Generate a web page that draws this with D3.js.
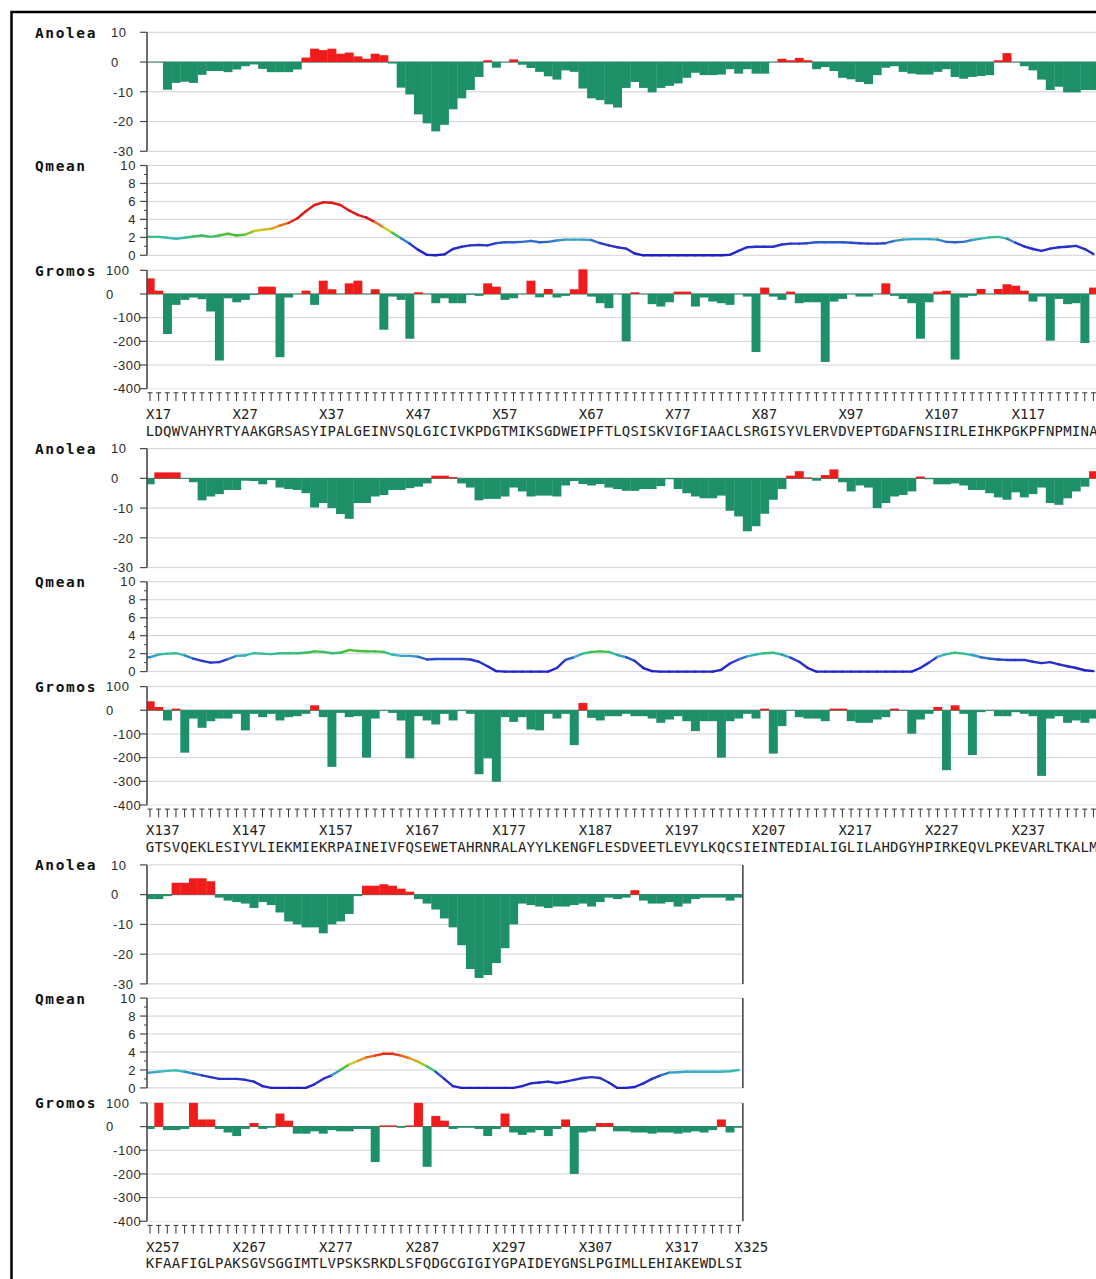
<!DOCTYPE html>
<html>
<head>
<meta charset="utf-8">
<script src="https://cdn.jsdelivr.net/npm/d3@7"></script>
<style>
  html, body { margin: 0; padding: 0; background: #fff; }
  svg { display: block; }
</style>
</head>
<body>
<svg id="chart" width="1096" height="1279"></svg>
<script>
// ---- residue blocks (120 residues per block) ----
const blockStarts = [17, 137, 257];
const blockEnds = [136, 256, 325];

// ---- sequence, one string per block (from the first residue of the block) ----
const seq1 = "LDQWVAHYRTYAAKGRSASYIPALGEINVSQLGICIVKPDGTMIKSGDWEIPFTLQSISKVIGFIAACLSRGISYVLERVDVEPTGDAFNSIIRLEIHKPGKPFNPMINA";
const seq2 = "GTSVQEKLESIYVLIEKMIEKRPAINEIVFQSEWETAHRNRALAYYLKENGFLESDVEETLEVYLKQCSIEINTEDIALIGLILAHDGYHPIRKEQVLPKEVARLTKALM";
const seq3 = "KFAAFIGLPAKSGVSGGIMTLVPSKSRKDLSFQDGCGIGIYGPAIDEYGNSLPGIMLLEHIAKEWDLSI";

// ---- ANOLEA energy per residue ----
const anolea1 = [0,0,-9.3,-7,-6.6,-7,-4.3,-3,-3,-3.4,-2.5,-1.4,-0.8,-2.3,-3.4,-3.4,-3.4,-2.5,1.5,4.5,4,4.5,2.8,3.2,1.9,1.1,2.8,2.3,-0.5,-8.6,-10.9,-17.6,-20.6,-23.3,-21.1,-15.9,-12.2,-9.4,-5,0.6,-1.9,0,0.9,-0.9,-2,-3.3,-4.8,-5.9,-2.8,-3.3,-8.9,-12.2,-12.8,-14.2,-15.3,
  -8.7,-6.7,-8.7,-10.2,-8.7,-8,-7.2,-5.3,-3.6,-4.4,-4.4,-4.2,-2.4,-3.9,-2.4,-3.9,-3.9,0,1.1,0.6,1.4,0.6,-2.4,-1.7,-3,-5.3,-5.8,-6.7,-7.4,-4.4,-1.9,-1.4,-3.3,-3.9,-4.2,-4.2,-3.3,-2.4,-5,-5.6,-5,-4.7,-4.4,0.6,3,0,-1.4,-2.8,-5.9,-9.4,-8.3,-10.2,-10.2,-9.4,-9.4];
const anolea2 = [-2,2,2,2,0,-1.3,-7.4,-6.1,-5.3,-3.9,-3.9,-0.8,-0.9,-2,-0.6,-3.1,-3.6,-3.9,-5,-9.8,-8.3,-10,-12,-13.6,-8.3,-8.3,-6.1,-5.6,-3.9,-3.9,-3.3,-2.8,-1.7,0.9,0.9,0.4,-1.7,-3.1,-7.4,-6.9,-6.9,-6.1,-3.1,-4.4,-6.1,-5.8,-5.8,-6.1,-2.4,-0.9,-1.9,-2.4,-1.9,-3.1,-3.6,
  -4.2,-4.2,-3.6,-3.6,-2.6,-0.3,-3.6,-5,-6.1,-6.7,-6.7,-5.8,-10.9,-12.8,-17.8,-16.1,-11.9,-7.2,-3.6,0.9,2.4,0.3,-0.8,1.1,3,-1.3,-4.4,-2.4,-3.1,-10,-8.3,-6.1,-5.6,-4.4,0.6,-0.3,-2,-2,-1.7,-2.4,-3.9,-3.9,-5,-6.4,-7.2,-4.7,-6.4,-5.3,-3.1,-8.3,-8.9,-6.7,-4.4,-2.8,2.4];
const anolea3 = [-1.5,-1.5,-0.5,4,4,5.5,5.5,4.5,-1,-2,-2.5,-3,-4.5,-2.5,-3.5,-6,-9,-10,-11,-11,-13,-10,-9,-6.5,-0.5,3,3,3.5,3,2,1,-1.5,-3,-5,-8,-11,-17,-25,-28,-27,-23,-18,-10,-3,-3.5,-4,-4.5,-4,-4,-3.5,-3,-4,-2.5,-1,-1.5,-1,1.5,-2,-3,-3,-2.5,-4,-3,-1.5,-1,-1,-1,-2,-1];

// ---- QMEAN local score per residue ----
const qmean1 = [2.05,2.05,1.95,1.85,1.95,2.1,2.2,2.05,2.2,2.4,2.2,2.3,2.7,2.85,2.95,3.3,3.6,4.1,4.9,5.6,5.9,5.85,5.6,5.0,4.5,4.2,3.7,3.1,2.5,1.9,1.3,0.6,0.05,0,0.1,0.7,0.95,1.1,1.15,1.1,1.35,1.45,1.45,1.5,1.6,1.45,1.5,1.65,1.75,1.75,1.75,1.7,1.35,1.1,0.9,
  0.75,0.2,0,0,0,0,0,0,0,0,0,0,0.05,0.5,0.9,0.95,0.95,0.95,1.2,1.3,1.3,1.35,1.45,1.45,1.45,1.45,1.4,1.35,1.3,1.3,1.35,1.6,1.75,1.8,1.8,1.8,1.75,1.5,1.45,1.5,1.7,1.85,2.0,2.05,1.85,1.4,1.0,0.7,0.5,0.75,0.9,0.95,1.05,0.7,0.15];
const qmean2 = [1.6,1.9,2.0,2.05,1.8,1.45,1.2,1.0,1.05,1.4,1.75,1.8,2.05,2.0,1.95,2.05,2.05,2.05,2.1,2.25,2.2,2.05,2.1,2.4,2.3,2.25,2.25,2.2,1.9,1.75,1.75,1.65,1.35,1.4,1.4,1.4,1.4,1.35,1.1,0.6,0.05,0,0,0,0,0,0,0.4,1.3,1.6,2.0,2.2,2.25,2.2,1.85,
  1.6,1.2,0.4,0.05,0,0,0,0,0,0,0,0.2,0.9,1.35,1.7,1.9,2.05,2.1,1.9,1.55,1.1,0.4,0,0,0,0,0,0,0,0,0,0,0,0,0.4,1.0,1.65,1.95,2.1,2.0,1.85,1.6,1.45,1.35,1.3,1.3,1.3,1.1,0.95,1.05,0.8,0.6,0.4,0.15,0.05];
const qmean3 = [1.7,1.8,1.9,1.95,1.8,1.6,1.4,1.2,1.0,1.0,1.0,0.9,0.7,0.2,0,0,0,0,0,0.4,1.0,1.4,2.0,2.6,3.0,3.4,3.6,3.8,3.8,3.6,3.3,2.9,2.4,1.8,1.0,0.2,0,0,0,0,0,0,0,0.2,0.5,0.6,0.7,0.55,0.7,0.9,1.1,1.2,1.1,0.6,0,0,0.1,0.5,1.0,1.4,1.7,1.75,1.8,1.8,1.8,1.8,1.8,1.85,2.0];

// ---- GROMOS energy per residue ----
const gromos1 = [66,14,-169,-46,-25,-15,-22,-74,-281,-18,-35,-25,-4,31,31,-267,-15,0,14,-46,56,20,0,45,56,0,20,-151,-11,-25,-189,7,0,-39,-18,-39,-39,-3,-8,45,31,-25,-18,0,56,-14,21,-15,-8,20,104,-11,-39,-60,0,
  -200,7,0,-43,-53,-35,10,10,-53,-15,-32,-39,-46,0,-11,-245,27,-11,-25,10,-39,-35,-35,-287,-32,-21,0,-11,-11,0,45,-8,-21,-39,-189,-35,10,14,-277,-15,-8,21,0,21,41,35,14,-32,-11,-197,-21,-43,-39,-207,27];
const gromos2 = [38,14,-43,7,-179,-35,-74,-46,-35,-35,-15,-85,-15,-29,-15,-43,-29,-25,-15,21,-29,-239,-11,-29,-25,-200,-35,0,-11,-43,-203,-25,-43,-60,-15,-43,-3,-15,-270,-203,-302,-29,-49,-29,-81,-85,-15,-35,-15,-147,31,-32,-43,-25,-25,
  -15,-25,-25,-35,-53,-39,-25,-46,-88,-46,-46,-200,-46,-35,-15,-35,7,-183,-67,0,-29,-35,-35,-46,7,7,-46,-53,-53,-39,-29,7,0,-99,-39,-15,14,-253,21,-15,-189,-8,0,-25,-25,-8,-15,-25,-277,-35,-25,-53,-43,-53,-35];
const gromos3 = [-10,100,-15,-15,-10,100,30,30,-10,-25,-40,-10,15,-10,-5,55,25,-30,-30,-20,-30,-15,-20,-20,-10,-10,-150,5,5,-5,5,100,-170,45,25,-10,-5,-5,-10,-40,-10,55,-25,-35,-25,-15,-40,-10,30,-200,-25,-20,15,15,-20,-20,-25,-25,-30,-25,-25,-30,-25,-20,-25,-15,30,-25,-5];

// ---- axis ticks ----
const anoleaTicks = [10, 0, -10, -20, -30];
const qmeanTicks = [10, 8, 6, 4, 2, 0];
const gromosTicks = [100, 0, -100, -200, -300, -400];

// ---------------------------------------------------------------
const blocks = [
  { start: blockStarts[0], end: blockEnds[0], seq: seq1, anolea: anolea1, qmean: qmean1, gromos: gromos1 },
  { start: blockStarts[1], end: blockEnds[1], seq: seq2, anolea: anolea2, qmean: qmean2, gromos: gromos2 },
  { start: blockStarts[2], end: blockEnds[2], seq: seq3, anolea: anolea3, qmean: qmean3, gromos: gromos3 }
];

const PAGE_W = 1096;
const svg = d3.select("#chart");
const RES_W = 8.655;     // width of one residue
const X_FIRST = 150;     // centre of first residue of a block
const AXIS_X = 147;      // left axis
const BLOCK_DY = 416.3;  // vertical distance between blocks

const GREEN = "#1e9068", RED = "#f01c1c", GRID = "#d2d2d2", AXIS = "#4a4a4a";
const LABEL_FONT = "'DejaVu Sans Mono', monospace";
const NUM_FONT = "'Liberation Sans', Arial, sans-serif";

const panels = [
  { key: "anolea", name: "Anolea", top: 32.3, bottom: 151.3, domain: [-30, 10], ticks: anoleaTicks, minor: [], bars: true,
    labelX: v => (v < 0 ? 113 : 111), anchor: "start" },
  { key: "qmean", name: "Qmean", top: 165.5, bottom: 255.3, domain: [0, 10], ticks: qmeanTicks, minor: [1,3,5,7,9], bars: false,
    labelX: v => 136, anchor: "end" },
  { key: "gromos", name: "Gromos", top: 270.3, bottom: 388.7, domain: [-400, 100], ticks: gromosTicks, minor: [], bars: true,
    labelX: v => (v < 0 ? 113 : 106), anchor: "start" }
];

// Qmean line colour: blue (poor) -> cyan -> green -> yellow -> red (high)
const qColor = d3.scaleLinear()
  .domain([0, 1.3, 1.85, 2.25, 2.8, 3.3, 3.9])
  .range(["#2020c4", "#2b38cc", "#36bcc6", "#3cbf3c", "#c9cc22", "#f0861e", "#e01818"])
  .clamp(true);

// outer frame
svg.append("rect")
  .attr("x", 11.5).attr("y", 12).attr("width", 1300).attr("height", 1400)
  .attr("fill", "none").attr("stroke", "#000").attr("stroke-width", 2.5);

blocks.forEach((b, bi) => {
  const g = svg.append("g").attr("transform", `translate(0,${bi * BLOCK_DY})`);
  const x = d3.scaleLinear().domain([b.start, b.end]).range([X_FIRST, X_FIRST + (b.end - b.start) * RES_W]);
  const right = x(b.end) + RES_W / 2;
  const residues = d3.range(b.start, b.end + 1);

  const clipId = `clip${bi}`;
  g.append("clipPath").attr("id", clipId)
    .append("rect").attr("x", AXIS_X).attr("y", 0).attr("width", right - AXIS_X).attr("height", 400);

  panels.forEach(p => {
    const y = d3.scaleLinear().domain(p.domain).range([p.bottom, p.top]);
    const values = b[p.key];
    const pts = values.map((v, i) => ({ r: b.start + i, v }));

    // grid
    g.append("g").selectAll("line").data(p.ticks).join("line")
      .attr("x1", AXIS_X).attr("x2", right)
      .attr("y1", d => y(d)).attr("y2", d => y(d))
      .attr("stroke", GRID).attr("stroke-width", 1)
      .attr("stroke-dasharray", d => (p.key === "gromos" && d === -400) ? "1,1" : null);

    const plot = g.append("g").attr("clip-path", `url(#${clipId})`);

    if (p.bars) {
      plot.append("line")
        .attr("x1", AXIS_X).attr("x2", right).attr("y1", y(0)).attr("y2", y(0))
        .attr("stroke", "#2f7a64").attr("stroke-width", 1);
      plot.selectAll("rect.bar").data(pts.filter(d => d.v !== 0)).join("rect")
        .attr("class", "bar")
        .attr("x", d => x(d.r) - RES_W / 2)
        .attr("width", RES_W + 0.3)
        .attr("y", d => y(Math.max(0, d.v)))
        .attr("height", d => Math.abs(y(d.v) - y(0)))
        .attr("fill", d => d.v > 0 ? RED : GREEN);
    } else {
      const segs = d3.pairs(pts);
      plot.selectAll("line.q").data(segs).join("line")
        .attr("class", "q")
        .attr("x1", d => x(d[0].r)).attr("y1", d => y(d[0].v))
        .attr("x2", d => x(d[1].r)).attr("y2", d => y(d[1].v))
        .attr("stroke", d => qColor((d[0].v + d[1].v) / 2))
        .attr("stroke-width", 2.4).attr("stroke-linecap", "round");
      // lead-in from the axis to the first residue
      plot.append("line")
        .attr("x1", AXIS_X).attr("x2", x(b.start))
        .attr("y1", y(values[0])).attr("y2", y(values[0]))
        .attr("stroke", qColor(values[0])).attr("stroke-width", 2.4);
    }

    // left and right axis lines
    [AXIS_X, right].forEach(ax => {
      g.append("line").attr("x1", ax).attr("x2", ax).attr("y1", p.top).attr("y2", p.bottom)
        .attr("stroke", AXIS).attr("stroke-width", 1.6);
    });

    // ticks + labels
    g.append("g").selectAll("line").data(p.ticks).join("line")
      .attr("x1", AXIS_X - 7).attr("x2", AXIS_X).attr("y1", d => y(d)).attr("y2", d => y(d))
      .attr("stroke", AXIS).attr("stroke-width", 1.2);
    g.append("g").selectAll("line").data(p.minor).join("line")
      .attr("x1", AXIS_X - 3).attr("x2", AXIS_X).attr("y1", d => y(d)).attr("y2", d => y(d))
      .attr("stroke", AXIS).attr("stroke-width", 1);
    g.append("g").selectAll("text").data(p.ticks).join("text")
      .attr("x", d => p.labelX(d)).attr("y", d => y(d) + 4.7)
      .attr("text-anchor", p.anchor)
      .attr("font-family", NUM_FONT).attr("font-size", 13).attr("letter-spacing", 0.6)
      .attr("fill", "#2a2a2a")
      .text(d => d);

    // panel name
    g.append("text").attr("x", 35).attr("y", p.top + 5.5)
      .attr("font-family", LABEL_FONT).attr("font-weight", "bold")
      .attr("font-size", 14.5).attr("letter-spacing", 1.6).attr("fill", "#111")
      .text(p.name);
  });

  // residue ticks (T shapes)
  const tickTop = 392.8, tickBot = 401;
  const tg = g.append("g").attr("stroke", "#333").attr("stroke-width", 1);
  tg.selectAll("line.stem").data(residues).join("line").attr("class", "stem")
    .attr("x1", d => x(d)).attr("x2", d => x(d)).attr("y1", tickTop).attr("y2", tickBot);
  tg.selectAll("line.cap").data(residues).join("line").attr("class", "cap")
    .attr("x1", d => x(d) - 2.5).attr("x2", d => x(d) + 2.5).attr("y1", tickTop).attr("y2", tickTop);

  // residue number labels every 10, plus the final residue of the chain
  const labelled = residues.filter(r => (r - b.start) % 10 === 0);
  if (bi === blocks.length - 1 && !labelled.includes(b.end)) labelled.push(b.end);
  g.append("g").selectAll("text").data(labelled.filter(r => x(r) + 30 < PAGE_W)).join("text")
    .attr("x", d => x(d) - 4).attr("y", 419)
    .attr("font-family", LABEL_FONT).attr("font-size", 14).attr("fill", "#222")
    .text(d => "X" + d);

  // one-letter sequence
  g.append("g").selectAll("text").data(b.seq.split("")).join("text")
    .attr("x", (d, i) => x(b.start + i)).attr("y", 435.5)
    .attr("text-anchor", "middle")
    .attr("font-family", LABEL_FONT).attr("font-size", 14).attr("fill", "#222")
    .text(d => d);
});
</script>
</body>
</html>
